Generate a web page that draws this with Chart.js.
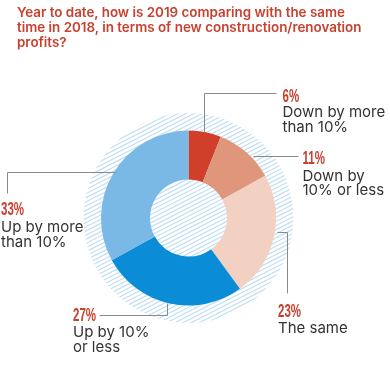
<!DOCTYPE html>
<html><head><meta charset="utf-8">
<script src="https://cdn.jsdelivr.net/npm/chart.js@4"></script>
<style>
html,body{margin:0;padding:0;background:#fff;}
#wrap{position:relative;width:390px;height:366px;overflow:hidden;}
#title{position:absolute;left:17px;top:5px;width:372px;font-family:Inter,"Open Sans",sans-serif;font-weight:600;font-size:13.4px;color:#c8412f;line-height:15px;white-space:nowrap;}
canvas{position:absolute;left:0;top:0;}
</style></head><body>
<div id="wrap"><canvas id="c" width="390" height="366"></canvas>
<div id="title">Year to date, how is 2019 comparing with the same<br>time in 2018, in terms of new construction/renovation<br>profits?</div></div>
<script>
const categories = ["Down by more than 10%", "Down by 10% or less", "The same", "Up by 10% or less", "Up by more than 10%"];
const values = [6, 11, 23, 27, 33];
const labelLines = [["Down by more", "than 10%"], ["Down by", "10% or less"], ["The same"], ["Up by 10%", "or less"], ["Up by more", "than 10%"]];
const sliceColors = ["#cf3f2a", "#df967b", "#f2d1c3", "#0a8cd6", "#7ab8e6"];

// label layout, relative to doughnut centre (px)
const labelLayout = [
  {line: [[15.5, -86], [15.5, -125], [87.5, -125]], x: 94, base: [-116, -101, -86]},
  {line: [[64.5, -62], [109.5, -62]], x: 114, base: [-54, -37, -23]},
  {line: [[88.5, 14], [98.5, 14], [98.5, 75]], x: 89.5, base: [99, 115]},
  {line: [[-21.5, 85], [-21.5, 97], [-89.5, 97]], x: -115.5, base: [103, 119, 134]},
  {line: [[-73.5, -46], [-181.5, -46], [-181.5, -25]], x: -187.5, base: [-3, 14, 29]}
];

const hatchPlugin = {
  id: 'hatch',
  beforeDatasetsDraw(chart) {
    const arc = chart.getDatasetMeta(0).data[0];
    const cx = arc.x, cy = arc.y, R = arc.outerRadius * 1.2;
    const ctx = chart.ctx;
    ctx.save();
    ctx.beginPath();
    ctx.arc(cx, cy, R, 0, Math.PI * 2);
    ctx.clip();
    ctx.translate(cx, cy);
    ctx.rotate(-27 * Math.PI / 180);
    ctx.strokeStyle = '#c2def2';
    ctx.lineWidth = 1.2;
    for (let y = -R - 4; y <= R + 4; y += 3.7) {
      ctx.beginPath();
      ctx.moveTo(-R - 10, y);
      ctx.lineTo(R + 10, y);
      ctx.stroke();
    }
    ctx.restore();
  }
};

const labelPlugin = {
  id: 'labels',
  afterDatasetsDraw(chart) {
    const arc = chart.getDatasetMeta(0).data[0];
    const cx = arc.x, cy = arc.y;
    const ctx = chart.ctx;
    ctx.save();
    labelLayout.forEach((L, i) => {
      ctx.strokeStyle = '#8a8a8a';
      ctx.lineWidth = 1;
      ctx.beginPath();
      L.line.forEach((p, k) => {
        const x = Math.round(cx + p[0]) + 0.5, y = Math.round(cy + p[1]) + 0.5;
        if (k === 0) ctx.moveTo(x, y); else ctx.lineTo(x, y);
      });
      ctx.stroke();
      const tx = cx + L.x;
      ctx.save();
      ctx.translate(tx, cy + L.base[0]);
      ctx.scale(0.64, 1);
      ctx.fillStyle = '#c8412f';
      ctx.font = 'bold 18px "Liberation Sans", Arial, sans-serif';
      ctx.textBaseline = 'alphabetic';
      ctx.fillText(values[i] + '%', 0, 0);
      ctx.restore();
      ctx.fillStyle = '#333333';
      ctx.font = '15px Inter, "Open Sans", sans-serif';
      labelLines[i].forEach((t, j) => {
        ctx.fillText(t, tx, cy + L.base[j + 1]);
      });
    });
    ctx.restore();
  }
};

new Chart(document.getElementById('c'), {
  type: 'doughnut',
  data: {
    labels: categories,
    datasets: [{data: values, backgroundColor: sliceColors, borderWidth: 0}]
  },
  options: {
    responsive: false,
    animation: false,
    cutout: '44%',
    rotation: 0,
    layout: {padding: {left: 101, right: 114, top: 130.5, bottom: 60.5}},
    plugins: {legend: {display: false}, tooltip: {enabled: false}, title: {display: false}}
  },
  plugins: [hatchPlugin, labelPlugin]
});
</script>
</body></html>
